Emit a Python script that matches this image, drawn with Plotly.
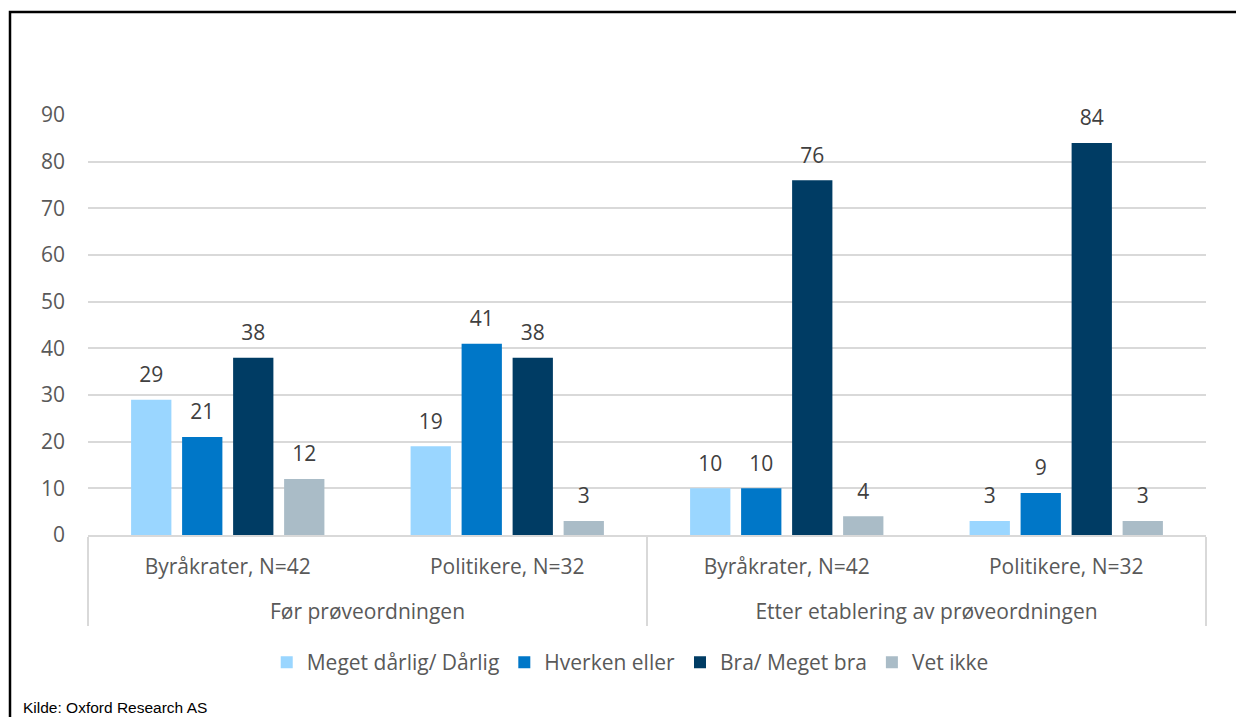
import plotly.graph_objects as go

outer = ["Før prøveordningen", "Før prøveordningen",
         "Etter etablering av prøveordningen", "Etter etablering av prøveordningen"]
inner = ["Byråkrater, N=42", "Politikere, N=32", "Byråkrater, N=42", "Politikere, N=32"]

series_names = ["Meget dårlig/ Dårlig", "Hverken eller", "Bra/ Meget bra", "Vet ikke"]
meget_darlig = [29, 19, 10, 3]
hverken = [21, 41, 10, 9]
bra = [38, 38, 76, 84]
vet_ikke = [12, 3, 4, 3]
colors = ["#9AD6FF", "#0077C8", "#003C64", "#AABCC7"]

FONT = "Open Sans, Noto Sans, sans-serif"
TXT = "#595959"
FS = 21

# page body has an 8px margin; the layout below is expressed in figure pixels
L, T = 80, 107
PW, PH = 1118, 420

inner_labels = [lab + "<br> " for lab in inner]

fig = go.Figure()
for name, vals, col in zip(series_names, [meget_darlig, hverken, bra, vet_ikke], colors):
    fig.add_trace(go.Bar(
        x=[outer, inner_labels], y=vals, name=name,
        marker=dict(color=col, line=dict(width=0)),
        text=[f"<span style='font-size:{FS}px'>{v}</span><br> " for v in vals],
        textposition="outside",
        textfont=dict(family=FONT, size=9, color="#404040"),
        cliponaxis=False,
    ))

fig.update_layout(
    width=1244, height=717,
    margin=dict(l=L, r=1244 - L - PW, t=T, b=717 - T - PH),
    paper_bgcolor="white", plot_bgcolor="white",
    barmode="group", bargap=0.27, bargroupgap=0.21,
    font=dict(family=FONT, size=FS, color=TXT),
    showlegend=True,
    legend=dict(orientation="h", x=0.485, xanchor="center", y=-0.255, yanchor="top",
                font=dict(family=FONT, size=FS, color=TXT), traceorder="normal",
                itemwidth=30),
    yaxis=dict(range=[0, 90], dtick=10, showgrid=True, gridcolor="#D9D9D9", gridwidth=1.5,
               zeroline=False, showline=False, ticks="", ticklabelstandoff=22,
               tickfont=dict(family=FONT, size=FS, color=TXT)),
    xaxis=dict(type="multicategory", showline=True, linecolor="#D9D9D9", linewidth=1.5,
               showdividers=True, dividercolor="#D9D9D9", dividerwidth=1.5,
               ticks="", ticklabelstandoff=12, tickfont=dict(family=FONT, size=FS, color=TXT)),
    shapes=[dict(type="rect", xref="paper", yref="paper",
                 x0=(2 - L) / PW, x1=1.2, y0=-1.0, y1=1 + (T - 4) / PH,
                 line=dict(color="black", width=2.5), fillcolor="rgba(0,0,0,0)", layer="above")],
    annotations=[dict(text="Kilde: Oxford Research AS", xref="paper", yref="paper",
                      x=(13 - L) / PW, xanchor="left", y=-(699 - T - PH) / PH, yanchor="middle",
                      showarrow=False,
                      font=dict(family="Arial, Liberation Sans, sans-serif", size=15.5, color="black"))],
)

fig.write_html("out.html")
